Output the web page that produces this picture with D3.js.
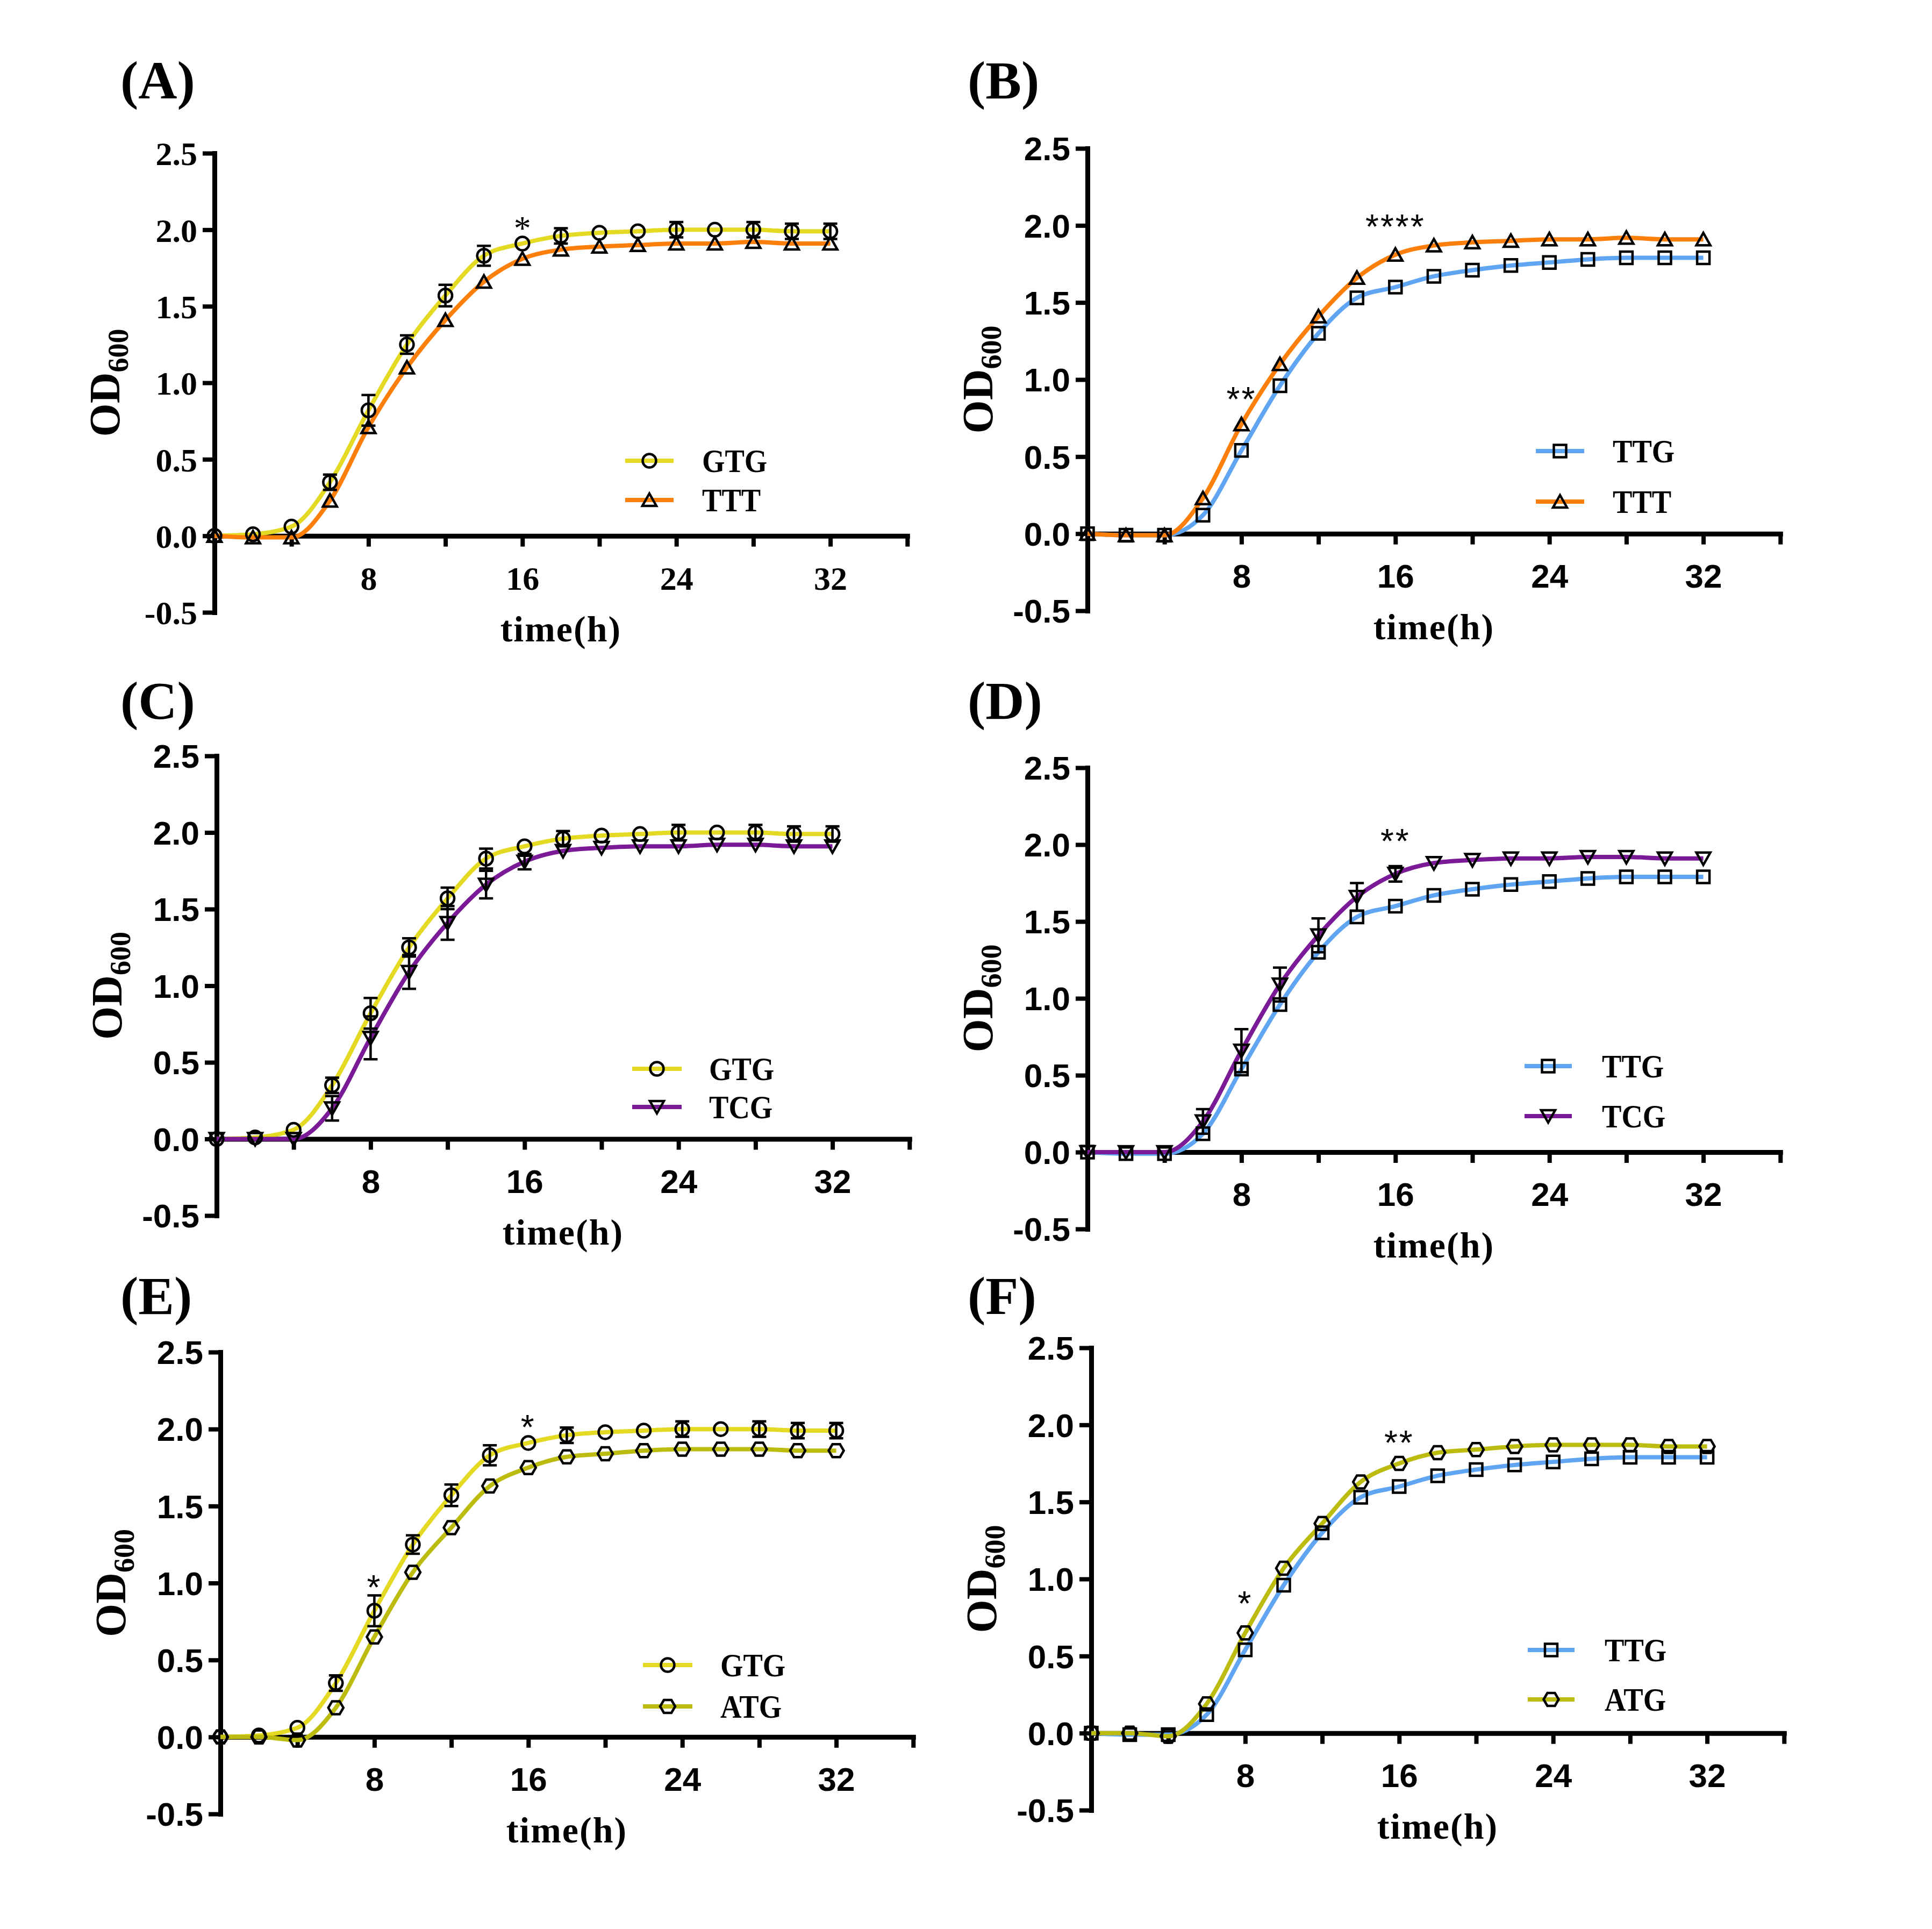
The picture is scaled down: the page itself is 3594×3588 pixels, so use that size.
<!DOCTYPE html>
<html>
<head>
<meta charset="utf-8">
<script src="https://cdn.jsdelivr.net/npm/d3@7"></script>
<style>
  body { margin: 0; background: #fff; }
</style>
</head>
<body>
<div id="chart"></div>
<script>
// sampling times (h)
const hours = [0, 2, 4, 6, 8, 10, 12, 14, 16, 18, 20, 22, 24, 26, 28, 30, 32];

// OD600 means and error bars
const gtgMean = [0.00, 0.01, 0.06, 0.35, 0.82, 1.25, 1.57, 1.83, 1.91, 1.96, 1.98, 1.99, 2.00, 2.00, 2.00, 1.99, 1.99];
const gtgSd   = [0.01, 0.02, 0.02, 0.05, 0.10, 0.06, 0.07, 0.065, 0.02, 0.05, 0.02, 0.02, 0.05, 0.02, 0.05, 0.05, 0.05];
const tttMean = [0.00, -0.01, -0.01, 0.23, 0.71, 1.10, 1.41, 1.66, 1.81, 1.87, 1.89, 1.90, 1.91, 1.91, 1.92, 1.91, 1.91];
const tttSd   = [0.01, 0.01, 0.01, 0.02, 0.02, 0.02, 0.02, 0.02, 0.02, 0.02, 0.02, 0.02, 0.02, 0.02, 0.02, 0.02, 0.02];
const ttgMean = [0.00, -0.01, -0.01, 0.12, 0.54, 0.96, 1.30, 1.53, 1.60, 1.67, 1.71, 1.74, 1.76, 1.78, 1.79, 1.79, 1.79];
const ttgSd   = [0.01, 0.01, 0.01, 0.02, 0.02, 0.02, 0.02, 0.02, 0.02, 0.02, 0.02, 0.02, 0.02, 0.02, 0.02, 0.02, 0.02];
const tcgMean = [0.00, 0.00, 0.00, 0.20, 0.66, 1.09, 1.41, 1.66, 1.81, 1.88, 1.90, 1.91, 1.91, 1.92, 1.92, 1.91, 1.91];
const tcgSd   = [0.01, 0.01, 0.01, 0.08, 0.14, 0.11, 0.11, 0.09, 0.05, 0.02, 0.02, 0.02, 0.02, 0.02, 0.02, 0.02, 0.02];
const atgMean = [0.00, 0.00, -0.02, 0.19, 0.65, 1.07, 1.36, 1.63, 1.75, 1.82, 1.84, 1.86, 1.87, 1.87, 1.87, 1.86, 1.86];
const atgSd   = [0.01, 0.01, 0.01, 0.02, 0.02, 0.02, 0.02, 0.02, 0.02, 0.02, 0.02, 0.02, 0.02, 0.02, 0.02, 0.02, 0.02];

// axis ticks
const yTicks = [-0.5, 0, 0.5, 1.0, 1.5, 2.0, 2.5];
const xTicks = [4, 8, 12, 16, 20, 24, 28, 32, 36];
const xLabels = [8, 16, 24, 32];

// significance marks: [hour, od, text]
const starsA = [[16, 2.04, "*"]];
const starsB = [[8, 0.92, "**"], [16, 2.04, "****"]];
const starsC = [];
const starsD = [[16, 2.07, "**"]];
const starsE = [[8, 1.02, "*"], [16, 2.06, "*"]];
const starsF = [[8, 0.89, "*"], [16, 1.93, "**"]];

const series = {
  GTG: { mean: gtgMean, sd: gtgSd, color: "#e4d923", shape: "circle" },
  TTT: { mean: tttMean, sd: tttSd, color: "#fb7f0a", shape: "up" },
  TTG: { mean: ttgMean, sd: ttgSd, color: "#5fa5f1", shape: "square" },
  TCG: { mean: tcgMean, sd: tcgSd, color: "#7a1a96", shape: "down" },
  ATG: { mean: atgMean, sd: atgSd, color: "#bcbc10", shape: "hex" }
};

const panels = [
  { tag: "(A)", keys: ["GTG", "TTT"], stars: starsA, serif: true,  left: 399,  top: 285,  bottom: 1139, tagX: 224,  tagY: 183,
    leg: { x1: 1163, x2: 1253, rows: [857, 930], textX: 1306 } },
  { tag: "(B)", keys: ["TTG", "TTT"], stars: starsB, serif: false, left: 2023, top: 276,  bottom: 1136, tagX: 1800, tagY: 183,
    leg: { x1: 2857, x2: 2947, rows: [839, 933], textX: 3000 } },
  { tag: "(C)", keys: ["GTG", "TCG"], stars: starsC, serif: false, left: 403,  top: 1406, bottom: 2261, tagX: 224,  tagY: 1337,
    leg: { x1: 1176, x2: 1268, rows: [1988, 2059], textX: 1319 } },
  { tag: "(D)", keys: ["TTG", "TCG"], stars: starsD, serif: false, left: 2023, top: 1428, bottom: 2286, tagX: 1800, tagY: 1337,
    leg: { x1: 2836, x2: 2924, rows: [1983, 2076], textX: 2980 } },
  { tag: "(E)", keys: ["GTG", "ATG"], stars: starsE, serif: false, left: 410,  top: 2515, bottom: 3374, tagX: 224,  tagY: 2444,
    leg: { x1: 1196, x2: 1288, rows: [3097, 3174], textX: 1340 } },
  { tag: "(F)", keys: ["TTG", "ATG"], stars: starsF, serif: false, left: 2030, top: 2507, bottom: 3367, tagX: 1800, tagY: 2444,
    leg: { x1: 2842, x2: 2929, rows: [3069, 3161], textX: 2985 } }
];

const SERIF = "'Liberation Serif', 'Times New Roman', serif";
const SANS = "'Liberation Sans', Arial, sans-serif";
const unitX = 35.8;

function shapePath(shape) {
  switch (shape) {
    case "circle": return "M12.5,0A12.5,12.5 0 1,1 -12.5,0A12.5,12.5 0 1,1 12.5,0Z";
    case "square": return "M-11.5,-11.5H11.5V11.5H-11.5Z";
    case "up": return "M0,-12L13,11H-13Z";
    case "down": return "M0,12L13,-11H-13Z";
    default: return "M-14,0L-7,-12H7L14,0L7,12H-7Z";
  }
}

const svg = d3.select("#chart").append("svg")
  .attr("width", 3594)
  .attr("height", 3588)
  .style("background", "#fff");

panels.forEach(p => {
  const x = d3.scaleLinear().domain([0, 36]).range([p.left, p.left + 36 * unitX]);
  const y = d3.scaleLinear().domain([-0.5, 2.5]).range([p.bottom, p.top]);
  const tickFont = p.serif ? SERIF : SANS;
  const g = svg.append("g");

  // panel tag
  g.append("text")
    .attr("x", p.tagX).attr("y", p.tagY)
    .attr("font-family", SERIF).attr("font-weight", "bold").attr("font-size", 100)
    .text(p.tag);

  // y axis
  const yAxis = g.append("g")
    .attr("transform", `translate(${p.left},0)`)
    .call(d3.axisLeft(y).tickValues(yTicks).tickSize(22).tickSizeOuter(0).tickPadding(10)
      .tickFormat(d3.format(".1f")));
  yAxis.select(".domain").attr("stroke-width", 9);
  yAxis.selectAll(".tick line").attr("stroke-width", 8);
  yAxis.selectAll(".tick text")
    .attr("font-family", tickFont).attr("font-weight", "bold").attr("font-size", 62)
    .attr("dy", "0.35em")
    .text(d => d < 0 ? "-" + Math.abs(d).toFixed(1) : d.toFixed(1));

  // x axis at OD = 0
  const xAxis = g.append("g")
    .attr("transform", `translate(0,${y(0)})`)
    .call(d3.axisBottom(x).tickValues(xTicks).tickSize(20).tickSizeOuter(0)
      .tickFormat(d => xLabels.includes(d) ? d : ""));
  xAxis.select(".domain").attr("stroke-width", 9);
  xAxis.selectAll(".tick line").attr("stroke-width", 8);
  xAxis.selectAll(".tick text")
    .attr("font-family", tickFont).attr("font-weight", "bold").attr("font-size", 62)
    .attr("y", 100).attr("dy", null);
  svg.selectAll(".domain").attr("stroke-linecap", "square");

  // axis titles
  g.append("text")
    .attr("x", x(18)).attr("y", y(0) + 196)
    .attr("text-anchor", "middle")
    .attr("font-family", SERIF).attr("font-weight", "bold").attr("font-size", 68)
    .attr("letter-spacing", 2)
    .text("time(h)");

  const yt = g.append("text")
    .attr("transform", `translate(${p.left - 177},${(p.top + p.bottom) / 2}) rotate(-90)`)
    .attr("text-anchor", "middle")
    .attr("font-family", SERIF).attr("font-weight", "bold").attr("font-size", 80);
  yt.append("tspan").text("OD");
  yt.append("tspan").attr("font-size", 54).attr("dy", 16).text("600");

  const line = d3.line()
    .x((d, i) => x(hours[i]))
    .y(d => y(d))
    .curve(d3.curveMonotoneX);

  // curves
  p.keys.forEach(k => {
    g.append("path")
      .attr("d", line(series[k].mean))
      .attr("fill", "none")
      .attr("stroke", series[k].color)
      .attr("stroke-width", 8)
      .attr("stroke-linejoin", "round");
  });

  // error bars (only where they reach past the symbol) and markers
  p.keys.forEach(k => {
    const s = series[k];
    const eb = g.append("g").attr("stroke", "#000").attr("stroke-width", 4.5).attr("fill", "none");
    hours.forEach((h, i) => {
      const cx = x(h), lo = y(s.mean[i] - s.sd[i]), hi = y(s.mean[i] + s.sd[i]);
      if ((lo - hi) / 2 < 12) return;
      eb.append("path").attr("d", `M${cx},${lo}V${hi}M${cx - 13},${hi}H${cx + 13}M${cx - 13},${lo}H${cx + 13}`);
    });
    g.append("g")
      .selectAll("path")
      .data(s.mean)
      .join("path")
      .attr("transform", (d, i) => `translate(${x(hours[i])},${y(d)})`)
      .attr("d", shapePath(s.shape))
      .attr("fill", "none")
      .attr("stroke", "#000")
      .attr("stroke-width", 4.5)
      .attr("stroke-linejoin", "miter");
  });

  // significance stars
  g.selectAll(".star")
    .data(p.stars)
    .join("text")
    .attr("x", d => x(d[0]))
    .attr("y", d => y(d[1]) + (p.serif ? 30 : 36))
    .attr("text-anchor", "middle")
    .attr("font-family", p.serif ? SERIF : SANS)
    .attr("font-size", 64)
    .attr("letter-spacing", p.serif ? 0 : 3)
    .text(d => d[2]);

  // legend
  p.keys.forEach((k, i) => {
    const s = series[k], ly = p.leg.rows[i];
    g.append("line")
      .attr("x1", p.leg.x1).attr("x2", p.leg.x2).attr("y1", ly).attr("y2", ly)
      .attr("stroke", s.color).attr("stroke-width", 8);
    g.append("path")
      .attr("transform", `translate(${(p.leg.x1 + p.leg.x2) / 2},${ly})`)
      .attr("d", shapePath(s.shape))
      .attr("fill", "none").attr("stroke", "#000").attr("stroke-width", 4.5);
    g.append("text")
      .attr("transform", `translate(${p.leg.textX},${ly + 21}) scale(0.88,1)`)
      .attr("font-family", SERIF).attr("font-weight", "bold").attr("font-size", 62)
      .text(k);
  });
});
</script>
</body>
</html>
